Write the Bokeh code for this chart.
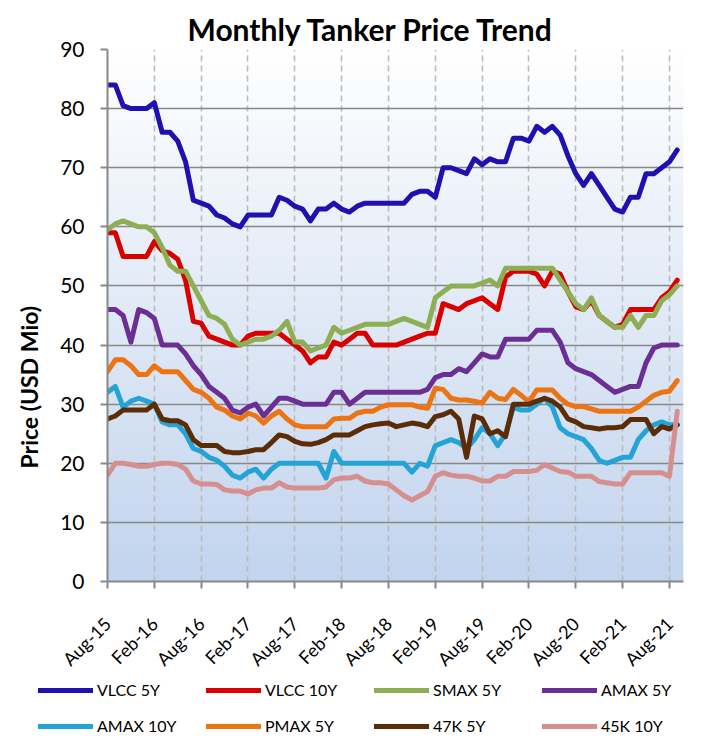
import numpy as np
from math import pi
from bokeh.plotting import figure
from bokeh.layouts import column
from bokeh.models import Range1d, FixedTicker, Legend, LegendItem, Title
from bokeh.embed import file_html
from bokeh.resources import INLINE

# ---------------- data (monthly, Aug-15 .. Sep-21) ----------------
tick_labels = ["Aug-15", "Feb-16", "Aug-16", "Feb-17", "Aug-17", "Feb-18", "Aug-18",
               "Feb-19", "Aug-19", "Feb-20", "Aug-20", "Feb-21", "Aug-21"]
tick_months = [0, 6, 12, 18, 24, 30, 36, 42, 48, 54, 60, 66, 72]

vlcc_5y = [84, 84, 80.5, 80, 80, 80, 81, 76, 76, 74.5, 71, 64.5,
           64, 63.5, 62, 61.5, 60.5, 60, 62, 62, 62, 62, 65, 64.5,
           63.5, 63, 61, 63, 63, 64, 63, 62.5, 63.5, 64, 64, 64,
           64, 64, 64, 65.5, 66, 66, 65, 70, 70, 69.5, 69, 71.5,
           70.5, 71.5, 71, 71, 75, 75, 74.5, 77, 76, 77, 75.5, 72,
           69, 67, 69, 67, 65, 63, 62.5, 65, 65, 69, 69, 70,
           71, 73]
vlcc_10y = [59, 59, 55, 55, 55, 55, 57.5, 56, 55.5, 54.5, 51, 44,
            43.7, 41.5, 41, 40.5, 40, 40, 41.5, 42, 42, 42, 42, 41,
            40, 39, 37, 38, 38, 40.5, 40, 41, 42, 42, 40, 40,
            40, 40, 40.5, 41, 41.5, 42, 42, 47, 46.5, 46, 47, 47.5,
            48, 47, 46, 51.5, 52.5, 52.5, 52.5, 52, 50, 52.5, 52, 49,
            46.5, 46, 47.5, 45, 44, 43, 43.5, 46, 46, 46, 46, 48,
            49, 51]
smax_5y = [59.5, 60.5, 61, 60.5, 60, 60, 59, 56.5, 53.5, 52.5, 52.5, 50,
           47.5, 45, 44.5, 43.5, 41, 40, 40.5, 41, 41, 41.5, 42.5, 44,
           40.5, 40.5, 39, 39.5, 40, 43, 42, 42.5, 43, 43.5, 43.5, 43.5,
           43.5, 44, 44.5, 44, 43.5, 43, 48, 49, 50, 50, 50, 50,
           50.5, 51, 50, 53, 53, 53, 53, 53, 53, 53, 51, 49,
           47, 46, 48, 45, 44, 43, 43, 45, 43, 45, 45, 47.5,
           48.5, 50]
amax_5y = [46, 46, 45, 40.5, 46, 45.5, 44.5, 40, 40, 40, 38.5, 36.5,
           35, 33, 32, 31, 29, 28.5, 29.5, 30, 28, 29.5, 31, 31,
           30.5, 30, 30, 30, 30, 32, 32, 30, 31, 32, 32, 32,
           32, 32, 32, 32, 32, 32.5, 34.5, 35, 35, 36, 35.5, 37,
           38.5, 38, 38, 41, 41, 41, 41, 42.5, 42.5, 42.5, 40.5, 37,
           36, 35.5, 35, 34, 33, 32, 32.5, 33, 33, 37, 39.5, 40,
           40, 40]
amax_10y = [32, 33, 29.5, 30.5, 31, 30.5, 30, 27, 26.5, 26.5, 25, 22.5,
            22, 21, 20.5, 19.5, 18, 17.5, 18.5, 19, 17.5, 19, 20, 20,
            20, 20, 20, 20, 17.5, 22, 20, 20, 20, 20, 20, 20,
            20, 20, 20, 18.5, 20, 19.5, 23, 23.5, 24, 23.5, 22.5, 24,
            26, 25, 23, 25, 29.5, 29, 29, 30, 31, 29.5, 26, 25,
            24.5, 24, 22.5, 20.5, 20, 20.5, 21, 21, 24, 25.5, 26.5, 27,
            26.5, 26.5]
pmax_5y = [35.5, 37.5, 37.5, 36.5, 35, 35, 36.5, 35.5, 35.5, 35.5, 34, 32.5,
           32, 31, 29.5, 29, 28, 27.5, 28.5, 28, 26.8, 28, 28.8, 27.5,
           26.5, 26.2, 26.2, 26.2, 26.2, 27.5, 27.6, 27.6, 28.5, 28.8, 28.8, 29.5,
           29.9, 29.9, 29.9, 29.9, 29.5, 29.3, 32.7, 32.5, 31, 30.7, 30.7, 30.5,
           30.2, 32, 31, 30.8, 32.5, 31.5, 30.4, 32.4, 32.4, 32.4, 31, 30,
           29.6, 29.6, 29.2, 28.8, 28.8, 28.8, 28.8, 28.8, 29.5, 30.5, 31.5, 32,
           32.2, 34]
k47_5y = [27.5, 28, 29, 29, 29, 29, 30, 27.5, 27.2, 27.2, 26.5, 24,
          23, 23, 23, 22, 21.8, 21.8, 22, 22.3, 22.3, 23.5, 24.8, 24.5,
          23.7, 23.3, 23.2, 23.5, 24, 24.8, 24.8, 24.8, 25.5, 26.2, 26.5, 26.7,
          26.8, 26.2, 26.5, 26.8, 26.6, 26.2, 27.9, 28.2, 28.8, 27.5, 21, 28,
          27.5, 25, 25.5, 24.5, 30, 30, 30, 30.5, 31, 30.5, 29.5, 27.5,
          27, 26.2, 26, 25.8, 26, 26, 26.2, 27.4, 27.4, 27.4, 25, 26.2,
          25.8, 26.5]
k45_10y = [18, 20, 20, 19.8, 19.5, 19.5, 19.8, 20, 20, 19.8, 19, 17,
           16.5, 16.5, 16.4, 15.5, 15.3, 15.3, 14.8, 15.5, 15.8, 15.8, 16.7, 16,
           15.8, 15.8, 15.8, 15.8, 16, 17.2, 17.5, 17.5, 17.8, 17, 16.7, 16.7,
           16.5, 15.5, 14.5, 13.8, 14.5, 15.2, 17.8, 18.4, 18, 17.8, 17.8, 17.5,
           17, 17, 17.8, 17.8, 18.6, 18.6, 18.6, 18.8, 19.8, 19.2, 18.6, 18.5,
           17.8, 17.8, 17.8, 16.9, 16.7, 16.5, 16.5, 18.4, 18.4, 18.4, 18.4, 18.4,
           17.8, 28.8]

series_names = ["VLCC 5Y", "VLCC 10Y", "SMAX 5Y", "AMAX 5Y",
                "AMAX 10Y", "PMAX 5Y", "47K 5Y", "45K 10Y"]
series_values = [vlcc_5y, vlcc_10y, smax_5y, amax_5y, amax_10y, pmax_5y, k47_5y, k45_10y]
series_colors = ["#2010B0", "#D90000", "#8DAE52", "#6B2F93",
                 "#24A4D6", "#EC7412", "#5B2C06", "#D68F8F"]
y_ticks = [0, 10, 20, 30, 40, 50, 60, 70, 80, 90]

FONT = "Lato"
x_end = 73.8
y_end = 90
W = 693
H_MAIN = 680
H_LEG = 55

p = figure(width=W, height=H_MAIN,
           x_range=Range1d(0, x_end), y_range=Range1d(0, y_end),
           output_backend="svg", toolbar_location=None,
           min_border_left=103, min_border_right=10,
           min_border_top=49, min_border_bottom=98)
p.frame_align = False
p.outline_line_color = None
p.background_fill_color = "white"
p.border_fill_color = "white"

# title
p.title.text = "Monthly Tanker Price Trend"
p.title.text_font = FONT
p.title.text_font_size = "30px"
p.title.text_font_style = "bold"
p.title.text_color = "black"
p.title.align = "left"
p.title.offset = 80
p.title.standoff = 6

# gradient plot-area background
n = 256
t = np.linspace(0, 1, n)  # 0 bottom -> 1 top
bottom_rgb = np.array([194, 212, 238])
top_rgb = np.array([255, 255, 255])
rgb = (bottom_rgb[None, :] * (1 - t[:, None]) + top_rgb[None, :] * t[:, None]).astype(np.uint32)
img = np.empty((n, 1), dtype=np.uint32)
view = img.view(dtype=np.uint8).reshape((n, 1, 4))
view[:, 0, 0] = rgb[:, 0]
view[:, 0, 1] = rgb[:, 1]
view[:, 0, 2] = rgb[:, 2]
view[:, 0, 3] = 255
p.image_rgba(image=[img], x=0, y=0, dw=x_end, dh=y_end, level="image")

# axes
p.yaxis.ticker = FixedTicker(ticks=y_ticks)
p.xaxis.ticker = FixedTicker(ticks=tick_months)
p.xaxis.major_label_overrides = {m: l for m, l in zip(tick_months, tick_labels)}
p.xaxis.major_label_orientation = pi / 4
for ax in (p.xaxis, p.yaxis):
    ax.axis_line_color = "#888888"
    ax.axis_line_width = 2
    ax.major_tick_line_color = "#888888"
    ax.major_tick_line_width = 2
    ax.major_tick_out = 7
    ax.major_tick_in = 0
    ax.minor_tick_out = 0
    ax.minor_tick_in = 0
    ax.major_label_text_font = FONT
    ax.major_label_text_color = "black"
p.yaxis.major_label_text_font_size = "21px"
p.yaxis.major_label_standoff = 16
p.xaxis.major_label_text_font_size = "18px"
p.xaxis.major_label_standoff = 32

# grids
p.ygrid.ticker = FixedTicker(ticks=y_ticks)
p.ygrid.grid_line_color = "#888888"
p.ygrid.grid_line_width = 1.6
p.xgrid.ticker = FixedTicker(ticks=tick_months)
p.xgrid.grid_line_color = "#BBBBBB"
p.xgrid.grid_line_width = 1.6
p.xgrid.grid_line_dash = "6 4"

# y axis title (placed in the left side panel)
ytitle = Title(text="Price (USD Mio)", align="left", offset=113,
               vertical_align="middle", standoff=27,
               text_font=FONT, text_font_size="23px", text_font_style="bold",
               text_color="black")
p.add_layout(ytitle, "left")

# series
x = list(range(len(vlcc_5y)))
for vals, col in zip(series_values, series_colors):
    p.line(x, vals, line_width=5, line_color=col, line_join="round", line_cap="round")

# legend strip (separate figure below the chart, same series styles)
pl = figure(width=W, height=H_LEG, x_range=Range1d(-20, -10), y_range=Range1d(0, 1),
            output_backend="svg", toolbar_location=None,
            min_border=0, min_border_left=0, min_border_right=0,
            min_border_top=0, min_border_bottom=0)
pl.frame_align = False
pl.axis.visible = False
pl.grid.visible = False
pl.outline_line_color = None
pl.background_fill_color = "white"
pl.border_fill_color = "white"
items = []
for name, vals, col in zip(series_names, series_values, series_colors):
    r = pl.line(x, vals, line_width=5, line_color=col, line_cap="round")
    items.append(LegendItem(label=name, renderers=[r]))
legend = Legend(items=items, location=(38, 0), orientation="horizontal", ncols=4,
                label_text_font=FONT, label_text_font_size="16px", label_text_color="black",
                glyph_width=55, glyph_height=18, label_height=18, label_width=92,
                label_standoff=4, spacing=17, padding=0, margin=0,
                border_line_color=None, background_fill_alpha=0)
pl.add_layout(legend)

layout = column(p, pl, spacing=0)
open("out.html", "w").write(file_html(layout, INLINE))
